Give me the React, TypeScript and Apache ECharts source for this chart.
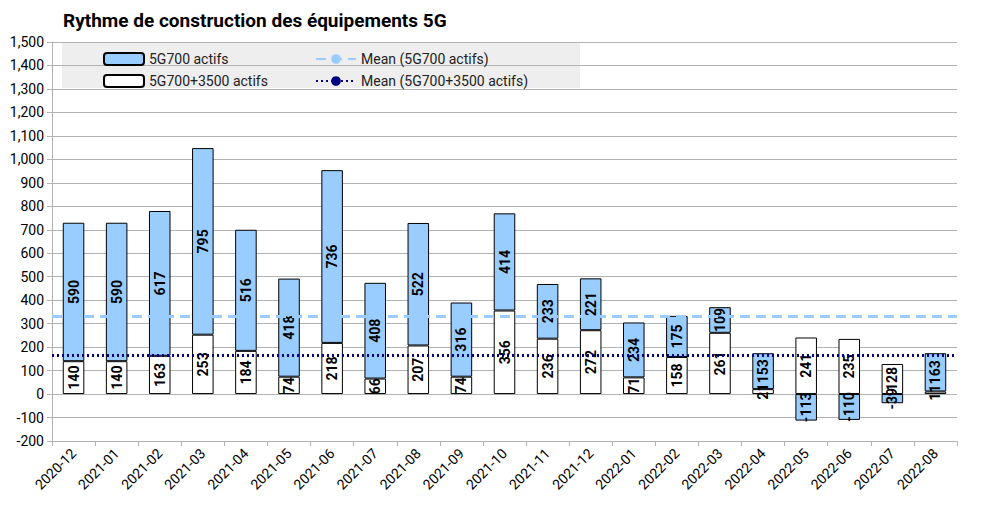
import { useEffect, useRef } from "react"
import * as echarts from "echarts"

const months = [
  "2020-12", "2021-01", "2021-02", "2021-03", "2021-04", "2021-05", "2021-06",
  "2021-07", "2021-08", "2021-09", "2021-10", "2021-11", "2021-12", "2022-01",
  "2022-02", "2022-03", "2022-04", "2022-05", "2022-06", "2022-07", "2022-08",
]
const both = [140, 140, 163, 253, 184, 74, 218, 66, 207, 74, 356, 236, 272, 71, 158, 261, 21, 241, 235, 128, 11]
const g700 = [590, 590, 617, 795, 516, 418, 736, 408, 522, 316, 414, 233, 221, 234, 175, 109, 153, -113, -110, -39, 163]
const meanG700 = 331
const meanBoth = 167

const font = "Roboto, 'DejaVu Sans', sans-serif"

export default function App() {
  const ref = useRef<HTMLDivElement>(null)

  useEffect(() => {
    if (!ref.current) return
    const chart = echarts.init(ref.current, null, { renderer: "svg" })
    const label = {
      show: true,
      position: "inside",
      rotate: 90,
      color: "#000",
      fontWeight: "bold",
      fontSize: 14,
      fontFamily: font,
    }
    const legendBase = {
      orient: "vertical",
      itemWidth: 40,
      itemHeight: 12,
      itemGap: 8,
      textStyle: { color: "#222", fontSize: 14, fontFamily: font },
    }
    chart.setOption({
      animation: false,
      title: {
        text: "Rythme de construction des équipements 5G",
        left: 58,
        top: 6,
        textStyle: { fontSize: 19, fontWeight: "bold", color: "#000", fontFamily: font },
      },
      graphic: [
        { type: "rect", left: 62, top: 42, shape: { width: 518, height: 46 }, style: { fill: "#eeeeee" }, z: -1 },
      ],
      legend: [
        { ...legendBase, data: ["5G700 actifs", "5G700+3500 actifs"], left: 98, top: 47 },
        { ...legendBase, data: ["Mean (5G700 actifs)", "Mean (5G700+3500 actifs)"], left: 310, top: 47 },
      ],
      grid: { left: 52, right: 28, top: 42, bottom: 67 },
      xAxis: {
        type: "category",
        data: months,
        axisLine: { onZero: false, lineStyle: { color: "#b3b3b3" } },
        axisTick: { show: true, lineStyle: { color: "#b3b3b3" } },
        axisLabel: { rotate: 45, color: "#000", fontSize: 14, fontFamily: font, margin: 10 },
      },
      yAxis: {
        type: "value",
        min: -200,
        max: 1500,
        interval: 100,
        axisLine: { show: true, lineStyle: { color: "#b3b3b3" } },
        axisTick: { show: true, lineStyle: { color: "#b3b3b3" } },
        splitLine: { lineStyle: { color: "#b3b3b3" } },
        axisLabel: { color: "#000", fontSize: 14, fontFamily: font },
      },
      series: [
        {
          name: "5G700+3500 actifs",
          type: "bar",
          stack: "s",
          barWidth: "50%",
          data: both,
          itemStyle: { color: "#ffffff", borderColor: "#000", borderWidth: 1 },
          label,
        },
        {
          name: "5G700 actifs",
          type: "bar",
          stack: "s",
          data: g700,
          itemStyle: { color: "#99ccff", borderColor: "#000", borderWidth: 1 },
          label,
        },
        {
          name: "Mean (5G700 actifs)",
          type: "line",
          data: [],
          symbol: "none",
          lineStyle: { color: "#99ccff", type: [10, 6], width: 3 },
          itemStyle: { color: "#99ccff" },
          markLine: {
            symbol: "none",
            silent: true,
            label: { show: false },
            lineStyle: { color: "#99ccff", type: [10, 6], width: 3 },
            data: [{ yAxis: meanG700 }],
          },
        },
        {
          name: "Mean (5G700+3500 actifs)",
          type: "line",
          data: [],
          symbol: "none",
          lineStyle: { color: "#000080", type: [2, 3], width: 3 },
          itemStyle: { color: "#000080" },
          markLine: {
            symbol: "none",
            silent: true,
            label: { show: false },
            lineStyle: { color: "#000080", type: [2, 3], width: 3 },
            data: [{ yAxis: meanBoth }],
          },
        },
      ],
    })
    return () => chart.dispose()
  }, [])

  return <div ref={ref} style={{ width: 985, height: 508, margin: -8, background: "#fff" }} />
}
